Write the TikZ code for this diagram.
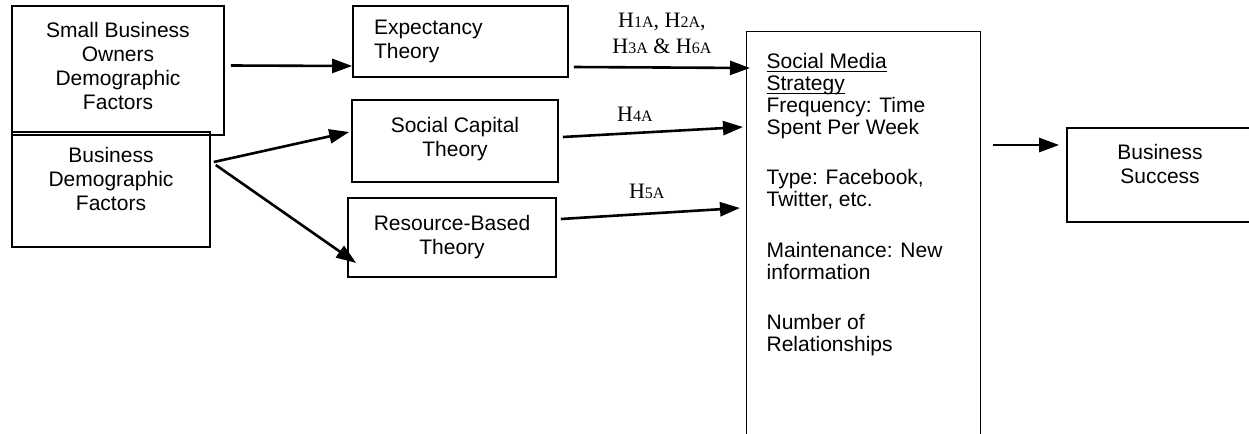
\documentclass[tikz,border=0pt]{standalone}
\usepackage{fontspec}
\setmainfont{Liberation Sans}
\newfontfamily\hypfont{Liberation Serif}
\usetikzlibrary{positioning, arrows.meta, calc}
\newcommand{\hsub}[1]{{\fontsize{8}{9}\selectfont #1}}
\newcommand{\uline}[1]{\underline{\smash{#1}}\vphantom{#1}}

\begin{document}
\begin{tikzpicture}[
    x=0.5pt, y=-0.5pt,
    box/.style={rectangle, draw, line width=0.8pt, align=center, inner sep=0pt, font=\fontsize{10.5}{12}\selectfont},
    leftbox/.style={box, align=left, text width=86.5pt},
    arrow/.style={-{Triangle[length=10pt, width=7pt]}, line width=1.3pt},
    hyp/.style={font=\hypfont\fontsize{11}{13}\selectfont, align=center}
]
\useasboundingbox (0,0) rectangle (1249,434);

% Demographic factors
\node[box, minimum width=106pt, minimum height=64.5pt, text depth=5pt] (owners) at (118,70.5) {Small Business\\Owners\\Demographic\\Factors};
\node[box, minimum width=99pt, minimum height=57.5pt, text depth=11pt] (bizdemo) at (111,189.5) {Business\\Demographic\\Factors};

% Theories
\node[leftbox, minimum width=107.5pt, minimum height=35.5pt] (expect) at (460.5,41.5) {Expectancy\\Theory};
\node[box, minimum width=103pt, minimum height=41pt, text depth=4pt] (capital) at (455,141) {Social Capital\\Theory};
\node[box, minimum width=104pt, minimum height=39.5pt] (resource) at (452,237.5) {Resource-Based\\Theory};

% Social media strategy
\node[box, anchor=north west, inner xsep=10pt, inner ysep=11pt, line width=0.6pt] (strategy) at (746,31) {\parbox[t][185pt][t]{97pt}{\raggedright\fontsize{10.5}{11}\selectfont
\uline{Social Media}\\
\uline{Strategy}\\
Frequency: Time\\
Spent Per Week\\[14pt]
Type: Facebook,\\
Twitter, etc.\\[14.5pt]
Maintenance: New\\
information\\[14pt]
Number of\\
Relationships}};

% Outcome
\node[box, minimum width=93pt, minimum height=47pt, text depth=11.5pt] (success) at (1160,175) {Business\\Success};

% Arrows - factors to theories
\draw[arrow] ($(owners.east)+(6,-5)$) -- ($(expect.west)+(0,24.5)$);
\draw[arrow] ($(bizdemo.east)+(3,-27.5)$) -- ($(capital.west)+(-2,-9)$);
\draw[arrow] ($(bizdemo.east)+(5,-24.5)$) -- ($(resource.west)+(9,25.5)$);

% Arrows - theories to strategy
\draw[arrow] ($(expect.east)+(5,25.5)$) -- node[hyp, above=3pt] {H\hsub{1A}, H\hsub{2A},\\H\hsub{3A} \& H\hsub{6A}} ($(strategy.north west)+(4,37)$);
\draw[arrow] ($(capital.east)+(4,-4)$) -- node[hyp, above=2pt, pos=0.4] {H\hsub{4A}} ($(strategy.north west)+(-3,96)$);
\draw[arrow] ($(resource.east)+(4,-18.5)$) -- node[hyp, above=3.5pt, pos=0.48] {H\hsub{5A}} ($(strategy.north west)+(-6,177)$);

% Strategy to success
\draw[arrow] ($(strategy.north east)+(12,114)$) -- ($(success.west)+(-7,-30)$);

\end{tikzpicture}
\end{document}
